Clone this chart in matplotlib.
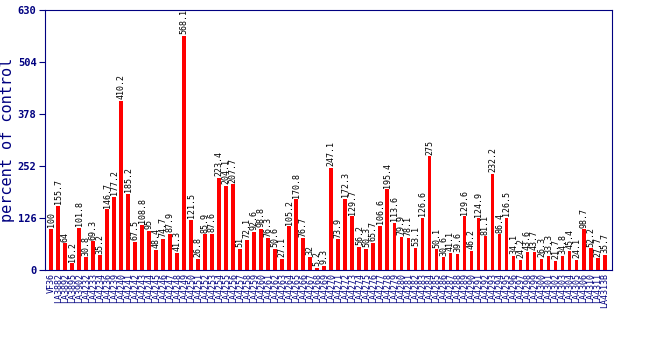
import matplotlib
matplotlib.use('Agg')
import matplotlib.pyplot as plt

lines = ['VF36', 'LA3882', 'LA3892', 'LA3895', 'LA3902', 'LA4232', 'LA4233', 'LA4234',
         'LA4236', 'LA4239', 'LA4240', 'LA4241', 'LA4242', 'LA4243', 'LA4244', 'LA4245',
         'LA4246', 'LA4247', 'LA4248', 'LA4249', 'LA4250', 'LA4251', 'LA4252', 'LA4253',
         'LA4254', 'LA4255', 'LA4256', 'LA4257', 'LA4258', 'LA4259', 'LA4260', 'LA4261',
         'LA4262', 'LA4263', 'LA4264', 'LA4265', 'LA4266', 'LA4267', 'LA4268', 'LA4269',
         'LA4270', 'LA4271', 'LA4272', 'LA4273', 'LA4274', 'LA4275', 'LA4276', 'LA4277',
         'LA4278', 'LA4279', 'LA4280', 'LA4281', 'LA4282', 'LA4283', 'LA4284', 'LA4285',
         'LA4286', 'LA4287', 'LA4288', 'LA4289', 'LA4290', 'LA4291', 'LA4292', 'LA4293',
         'LA4294', 'LA4295', 'LA4296', 'LA4297', 'LA4298', 'LA4299', 'LA4300', 'LA4301',
         'LA4302', 'LA4303', 'LA4304', 'LA4305', 'LA4306', 'LA4310', 'LA4311', 'LA4313B']
values = [100, 155.7, 64, 16.2, 101.8, 30.8, 69.3, 35.2, 146.7, 177.2,
          410.2, 185.2, 67.5, 108.8, 95, 48.4, 74.7, 87.9, 41.3, 568.1,
          121.5, 26.8, 85.9, 87.6, 223.4, 204.1, 207.7, 51, 72.1, 92.6,
          98.8, 76.3, 50.6, 27.1, 105.2, 170.8, 76.7, 32, 5.2, 9.3,
          247.1, 73.9, 172.3, 129.7, 56.2, 50.3, 65.7, 106.6, 195.4, 113.6,
          79.9, 78.1, 53.1, 126.6, 275, 50.1, 30.6, 41.1, 39.6, 129.6,
          46.2, 124.9, 81.1, 232.2, 86.4, 126.5, 34.1, 24.2, 43.6, 43.7,
          26.3, 33.3, 21.7, 34.8, 45.4, 24.1, 98.7, 52.2, 27.7, 35.7]
yticks = [0, 126, 252, 378, 504, 630]

navy = '#000080'
fig = plt.figure(figsize=(6.5, 3.5), dpi=100)
ax = fig.add_axes([0.069, 0.229, 0.873, 0.742])
x = list(range(len(values)))
ax.bar(x, values, width=0.55, color='#ff0000')
for xi, v in zip(x, values):
    ax.text(xi, v + 4, f'{v:g}', rotation=90, ha='center', va='bottom',
            fontsize=6, family='DejaVu Sans Mono', color='black')

ax.set_xlim(-0.9, len(values) + 0.1)
ax.set_ylim(0, 630)
ax.set_yticks(yticks)
ax.set_yticklabels([str(t) for t in yticks], fontsize=7.5, fontweight='bold',
                   family='DejaVu Sans Mono', color=navy)
ax.set_xticks(x)
ax.set_xticklabels(lines, rotation=90, fontsize=6, family='DejaVu Sans Mono', color=navy)
ax.tick_params(axis='x', length=0, pad=2)
ax.tick_params(axis='y', color=navy, length=4, pad=2)
for s in ax.spines.values():
    s.set_color(navy)
ax.set_ylabel('percent of control', fontsize=11, family='DejaVu Sans Mono',
              color=navy, labelpad=2)

fig.savefig('out.png')
